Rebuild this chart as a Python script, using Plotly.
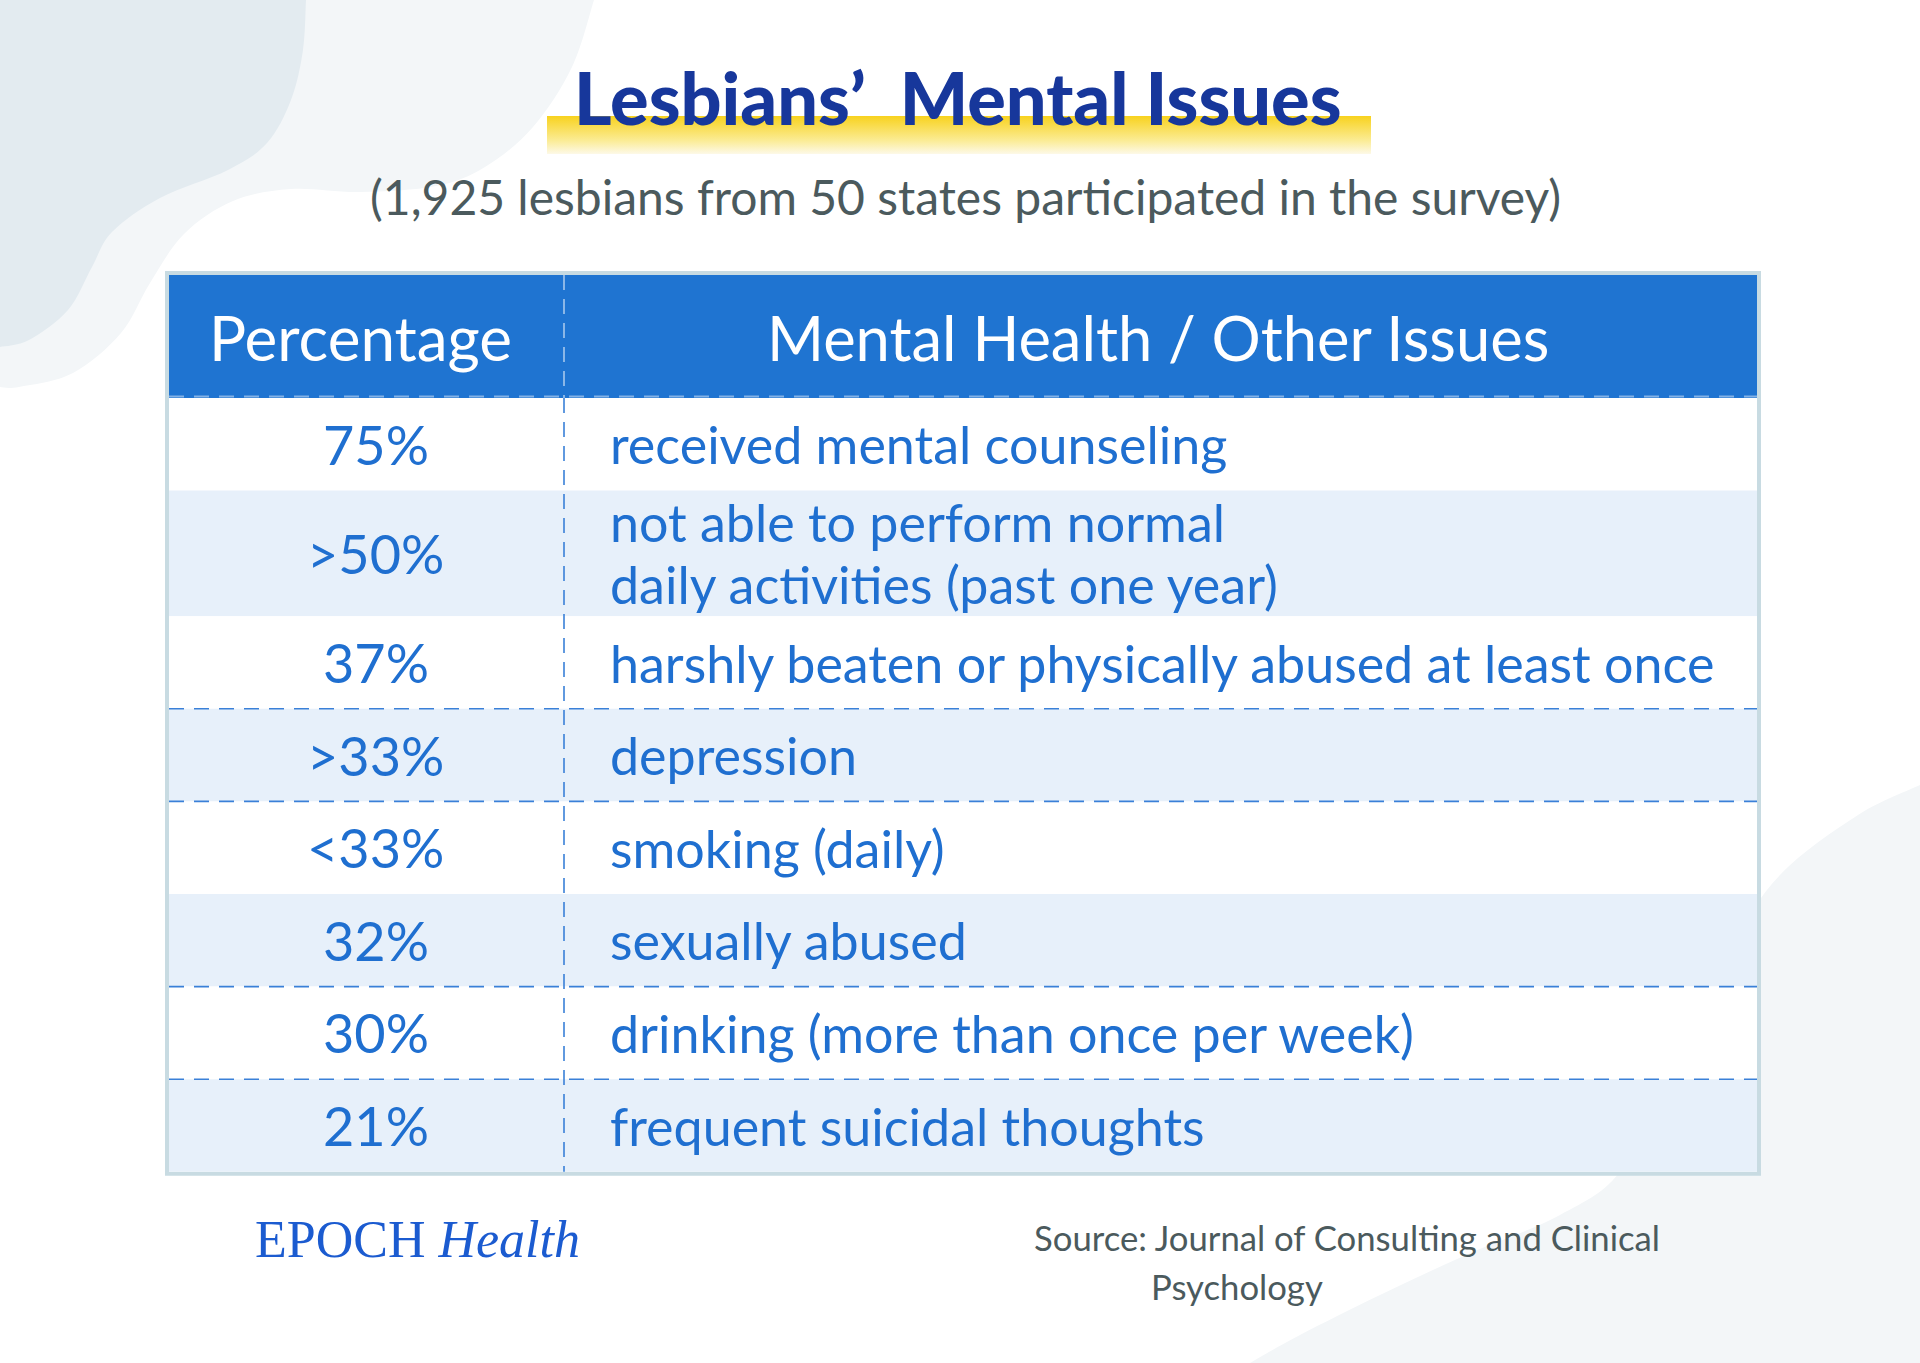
import plotly.graph_objects as go

# ---------------- data ----------------
title_text = "Lesbians’  Mental Issues"
subtitle_text = "(1,925 lesbians from 50 states participated in the survey)"
header_labels = ["Percentage", "Mental Health / Other Issues"]
percentages = ["75%", ">50%", "37%", ">33%", "<33%", "32%", "30%", "21%"]
issues = [
    "received mental counseling",
    "not able to perform normal<br>daily activities (past one year)",
    "harshly beaten or physically abused at least once",
    "depression",
    "smoking (daily)",
    "sexually abused",
    "drinking (more than once per week)",
    "frequent suicidal thoughts",
]
dashed_after_rows = [2, 3, 5, 6]  # row separators drawn as dashed lines (0-based row index above line)
logo_main = "EPOCH"
logo_italic = "Health"
source_lines = ["Source: Journal of Consulting and Clinical", "Psychology"]

# ---------------- layout constants ----------------
W, H = 1920, 1363
FONT = "Lato"
BLUE_TEXT = "#1f6fd0"
HEADER_BLUE = "#1f74d1"
ALT_FILL = "#e7f0fa"
GRAY_TEXT = "#4b5a5d"
TITLE_BLUE = "#17379b"

T_LEFT, T_RIGHT = 169, 1757
T_TOP, HEAD_BOTTOM = 275, 398
COL_X = 564
ROW_H = 92.6
EXTRA_LINE_H = 33
LINE_GAP = 62
BODY_SIZE = 52


def esc(s):
    return s.replace("<br>", "\n").replace("<", "&lt;").replace(">", "&gt;").replace("\n", "<br>")


def smooth_path(pts, prefix="", suffix=""):
    # Catmull-Rom through pts -> cubic bezier SVG path
    d = prefix + f" L {pts[0][0]},{pts[0][1]}" if prefix else f"M {pts[0][0]},{pts[0][1]}"
    n = len(pts)
    for i in range(n - 1):
        p0 = pts[i - 1] if i > 0 else pts[i]
        p1 = pts[i]
        p2 = pts[i + 1]
        p3 = pts[i + 2] if i + 2 < n else pts[i + 1]
        c1 = (p1[0] + (p2[0] - p0[0]) / 6, p1[1] + (p2[1] - p0[1]) / 6)
        c2 = (p2[0] - (p3[0] - p1[0]) / 6, p2[1] - (p3[1] - p1[1]) / 6)
        d += f" C {c1[0]:.1f},{c1[1]:.1f} {c2[0]:.1f},{c2[1]:.1f} {p2[0]},{p2[1]}"
    return d + suffix


fig = go.Figure()
shapes = []
ann = []

# ---------------- background blobs ----------------
light_pts = [(594, 0), (572, 67), (533, 127), (485, 167), (436, 186), (360, 192), (291, 189),
             (233, 201), (184, 234), (150, 283), (121, 333), (73, 373), (19, 387), (0, 387)]
dark_pts = [(306, 0), (303, 50), (291, 100), (267, 143), (228, 170), (160, 198), (112, 232),
            (92, 267), (68, 310), (29, 340), (0, 347)]
br_pts = [(1920, 785), (1858, 815), (1780, 875), (1728, 952), (1675, 1060), (1623, 1168),
          (1560, 1215), (1466, 1255), (1380, 1295), (1300, 1335), (1250, 1363)]
shapes.append(dict(type="path", xref="x", yref="y", layer="below",
                   path=smooth_path(light_pts, prefix="M 0,0", suffix=" Z"),
                   fillcolor="#f3f6f8", line=dict(width=0)))
shapes.append(dict(type="path", xref="x", yref="y", layer="below",
                   path=smooth_path(dark_pts, prefix="M 0,0", suffix=" Z"),
                   fillcolor="#e3ebf0", line=dict(width=0)))
shapes.append(dict(type="path", xref="x", yref="y", layer="below",
                   path=smooth_path(br_pts, prefix="M 1920,1363", suffix=" Z"),
                   fillcolor="#f3f6f8", line=dict(width=0)))

# ---------------- title highlight (gradient bar) ----------------
bx0, bx1, by0, by1 = 547, 1371, 116, 154
fig.add_trace(go.Scatter(
    x=[bx0, bx1, bx1, bx0, bx0], y=[by0, by0, by1, by1, by0],
    mode="lines", line=dict(width=0), fill="toself", hoverinfo="skip", showlegend=False,
    fillgradient=dict(type="vertical",
                      colorscale=[[0, "#fdf9e8"], [0.35, "#fbec96"], [1, "#f8d21e"]])))

ann.append(dict(x=958, y=97, text=title_text, showarrow=False, xanchor="center", yanchor="middle",
                font=dict(family=FONT, size=72, color=TITLE_BLUE, weight=900)))
ann.append(dict(x=965, y=196, text=subtitle_text, showarrow=False, xanchor="center", yanchor="middle",
                font=dict(family=FONT, size=48, color=GRAY_TEXT)))

# ---------------- table ----------------
n_lines = [len(s.split("<br>")) for s in issues]
bounds = [HEAD_BOTTOM]
for nl in n_lines:
    bounds.append(bounds[-1] + ROW_H + EXTRA_LINE_H * (nl - 1))
T_BOTTOM = bounds[-1]

# outer border
shapes.append(dict(type="rect", xref="x", yref="y", layer="below",
                   x0=T_LEFT - 2, x1=T_RIGHT + 2, y0=T_TOP - 2, y1=T_BOTTOM + 2,
                   fillcolor="white", line=dict(color="#c8dbe2", width=4)))
# header
shapes.append(dict(type="rect", xref="x", yref="y", layer="below",
                   x0=T_LEFT, x1=T_RIGHT, y0=T_TOP, y1=HEAD_BOTTOM,
                   fillcolor=HEADER_BLUE, line=dict(width=0)))
# rows
for i in range(len(issues)):
    fill = "white" if i % 2 == 0 else ALT_FILL
    shapes.append(dict(type="rect", xref="x", yref="y", layer="below",
                       x0=T_LEFT, x1=T_RIGHT, y0=bounds[i], y1=bounds[i + 1],
                       fillcolor=fill, line=dict(width=0)))
# dashed row separators
for i in dashed_after_rows:
    yb = bounds[i + 1]
    shapes.append(dict(type="line", xref="x", yref="y", layer="below",
                       x0=T_LEFT, x1=T_RIGHT, y0=yb, y1=yb,
                       line=dict(color="#3a80d8", width=1.6, dash="15px,10px")))
# header bottom dashed (light)
shapes.append(dict(type="line", xref="x", yref="y", layer="below",
                   x0=T_LEFT, x1=T_RIGHT, y0=HEAD_BOTTOM - 1.5, y1=HEAD_BOTTOM - 1.5,
                   line=dict(color="rgba(255,255,255,0.45)", width=2, dash="15px,10px")))
# vertical divider
shapes.append(dict(type="line", xref="x", yref="y", layer="below",
                   x0=COL_X, x1=COL_X, y0=T_TOP, y1=HEAD_BOTTOM,
                   line=dict(color="rgba(255,255,255,0.6)", width=1.6, dash="15px,9px")))
shapes.append(dict(type="line", xref="x", yref="y", layer="below",
                   x0=COL_X, x1=COL_X, y0=HEAD_BOTTOM, y1=T_BOTTOM,
                   line=dict(color="#3a80d8", width=1.6, dash="15px,9px")))

# header text
head_mid = (T_TOP + HEAD_BOTTOM) / 2
col1_c = (T_LEFT + COL_X) / 2
col2_c = (COL_X + T_RIGHT) / 2
ann.append(dict(x=col1_c - 6, y=head_mid, text=header_labels[0], showarrow=False,
                xanchor="center", yanchor="middle", font=dict(family=FONT, size=62, color="white")))
ann.append(dict(x=col2_c - 3, y=head_mid, text=header_labels[1], showarrow=False,
                xanchor="center", yanchor="middle", font=dict(family=FONT, size=61.5, color="white")))

# body text
for i, (p, s) in enumerate(zip(percentages, issues)):
    mid = (bounds[i] + bounds[i + 1]) / 2
    ann.append(dict(x=col1_c + 9, y=mid, text=esc(p), showarrow=False,
                    xanchor="center", yanchor="middle",
                    font=dict(family=FONT, size=54, color=BLUE_TEXT)))
    lines = s.split("<br>")
    for k, ln in enumerate(lines):
        yy = mid + (k - (len(lines) - 1) / 2) * LINE_GAP
        ann.append(dict(x=COL_X + 44, y=yy, text=esc(ln), showarrow=False,
                        xanchor="left", yanchor="middle",
                        font=dict(family=FONT, size=BODY_SIZE, color=BLUE_TEXT)))

# ---------------- footer ----------------
ann.append(dict(x=253, y=1239, text=f"{logo_main} <i>{logo_italic}</i>", showarrow=False,
                xanchor="left", yanchor="middle",
                font=dict(family="Liberation Serif", size=52, color="#1b5bd0")))
ann.append(dict(x=1032, y=1237, text=source_lines[0], showarrow=False, xanchor="left", yanchor="middle",
                font=dict(family=FONT, size=34.7, color=GRAY_TEXT)))
ann.append(dict(x=1149, y=1286, text=source_lines[1], showarrow=False, xanchor="left", yanchor="middle",
                font=dict(family=FONT, size=34.7, color=GRAY_TEXT)))

fig.update_layout(
    width=W, height=H, margin=dict(l=0, r=0, t=0, b=0),
    paper_bgcolor="white", plot_bgcolor="white",
    xaxis=dict(range=[0, W], visible=False, fixedrange=True),
    yaxis=dict(range=[H, 0], visible=False, fixedrange=True),
    shapes=shapes, annotations=ann, showlegend=False,
)

fig.write_html("out.html", config={"displayModeBar": False},
               post_script="document.body.style.margin='0px';document.body.style.overflow='hidden';")
